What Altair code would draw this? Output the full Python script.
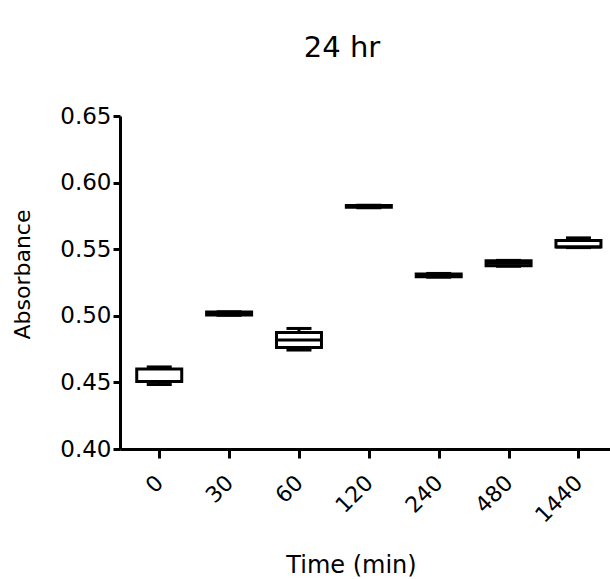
import altair as alt
import pandas as pd

# Absorbance box plots (min / Q1 / median / Q3 / max) per sampling time
categories = ["0", "30", "60", "120", "240", "480", "1440"]
mins = [0.4484, 0.5004, 0.4743, 0.5812, 0.5290, 0.5372, 0.5512]
q1s = [0.4507, 0.5006, 0.4762, 0.5815, 0.5294, 0.5375, 0.5517]
medians = [0.4507, 0.5017, 0.4818, 0.5821, 0.5304, 0.5394, 0.5517]
q3s = [0.4601, 0.5028, 0.4875, 0.5828, 0.5314, 0.5413, 0.5565]
maxs = [0.4616, 0.5030, 0.4905, 0.5830, 0.5318, 0.5416, 0.5585]

df = pd.DataFrame({
    "idx": list(range(len(categories))),
    "time": categories,
    "min": mins,
    "q1": q1s,
    "median": medians,
    "q3": q3s,
    "max": maxs,
})

FONT = "DejaVu Sans"
label_list = "[" + ",".join(f"'{c}'" for c in categories) + "]"

x_enc = alt.X(
    "idx:Q",
    scale=alt.Scale(domain=[-0.49, 6.38], nice=False, zero=False),
    axis=alt.Axis(
        title="Time (min)",
        values=list(range(len(categories))),
        labelExpr=f"{label_list}[datum.value]",
        labelAngle=315,
        labelAlign="right",
        labelBaseline="middle",
        labelPadding=21,
        labelFontSize=22,
        tickSize=9,
        tickWidth=3,
        domainWidth=3,
        titleFontSize=24,
        titleFontWeight="normal",
        titleX=231,
        titleY=116,
        titleBaseline="middle",
        grid=False,
    ),
)

y_scale = alt.Scale(domain=[0.40, 0.65], nice=False, zero=False)
y_axis = alt.Axis(
    title="Absorbance",
    values=[0.40, 0.45, 0.50, 0.55, 0.60, 0.65],
    format=".2f",
    labelFontSize=23,
    labelPadding=2,
    tickSize=7,
    tickWidth=3,
    domainWidth=3,
    titleFontSize=22,
    titleFontWeight="normal",
    titleX=-98,
    titleY=158,
    titleBaseline="middle",
    grid=False,
)

base = alt.Chart(df).encode(x=x_enc)

upper_whisker = base.mark_rule(color="black", strokeWidth=3).encode(
    y=alt.Y("q3:Q", scale=y_scale, axis=y_axis), y2="max:Q"
)
lower_whisker = base.mark_rule(color="black", strokeWidth=3).encode(
    y=alt.Y("min:Q", scale=y_scale), y2="q1:Q"
)
box = base.mark_bar(size=45, fill="white", stroke="black", strokeWidth=3).encode(
    y=alt.Y("q1:Q", scale=y_scale), y2="q3:Q"
)
median = base.mark_tick(orient="horizontal", size=45, thickness=3, color="black", opacity=1).encode(
    y=alt.Y("median:Q", scale=y_scale)
)
cap_max = base.mark_tick(orient="horizontal", size=25, thickness=3, color="black", opacity=1).encode(
    y=alt.Y("max:Q", scale=y_scale)
)
cap_min = base.mark_tick(orient="horizontal", size=25, thickness=3, color="black", opacity=1).encode(
    y=alt.Y("min:Q", scale=y_scale)
)

chart = (
    alt.layer(upper_whisker, lower_whisker, box, median, cap_max, cap_min)
    .properties(
        width=490,
        height=333,
        title=alt.TitleParams(
            "24 hr", fontSize=29, fontWeight="normal", font=FONT,
            anchor="middle", dx=-23, offset=42, color="black",
        ),
        padding={"left": 120, "top": 116, "right": 0, "bottom": 130},
        autosize="none",
    )
    .configure(font=FONT)
    .configure_view(stroke=None)
    .configure_axis(
        domainColor="black", tickColor="black", labelColor="black",
        titleColor="black", labelFont=FONT, titleFont=FONT,
    )
)

chart.save("out.html", embed_options={"renderer": "svg", "actions": False})
